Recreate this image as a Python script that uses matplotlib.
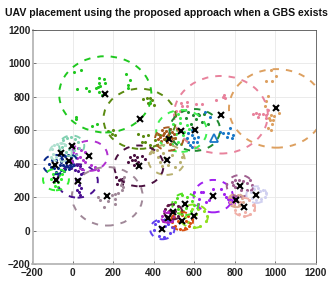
import matplotlib
matplotlib.use("Agg")
import matplotlib.pyplot as plt
from matplotlib.patches import Circle

plt.rcParams['font.family'] = ['Liberation Sans', 'DejaVu Sans']

# UAV positions and coverage radius, one entry per cluster
uav_x = [160, 331, 732, 1007, 603, 537, 476, 463, 326, 170,
         23, 81, -6, -61, -20, -89, -84,
         694, 826, 908, 808, 846, 556, 598, 539, 496, 468, 442]
uav_y = [815, 669, 693, 731, 602, 596, 548, 423, 387, 205,
         297, 447, 507, 467, 417, 395, 305,
         206, 267, 215, 180, 140, 158, 86, 56, 112, 76, 8]
uav_radius = [228, 180, 232, 235, 125, 125, 70, 90, 122, 175,
              100, 90, 62, 55, 40, 58, 64,
              97, 65, 50, 40, 55, 65, 70, 55, 45, 30, 60]
colors = ["#1fc81f", "#5a8a10", "#e8829c", "#dda060", "#1f8a30", "#40f050",
          "#a85a20", "#b8b070", "#4a1040", "#a08898",
          "#4a1090", "#b030d0", "#80d0b0", "#b0e0d0", "#0a2a8a", "#0a2a8a", "#30f030",
          "#a020f0", "#a06090", "#d0d0f0", "#d8a890", "#f0b0a8", "#50e020", "#90e020",
          "#d85010", "#601848", "#b020c0", "#6040f0"]

users = [
    [(5, 946), (40, 958), (18, 846), (63, 855), (81, 838), (130, 912), (125, 858), (115, 850), (135, 865),
     (130, 880), (152, 905), (160, 880), (142, 812), (128, 830), (265, 938), (282, 898), (270, 870),
     (274, 850), (15, 679), (13, 665), (117, 639), (96, 627)],
    [(364, 793), (380, 793), (390, 783), (372, 765), (348, 786), (381, 762), (400, 752), (175, 593),
     (200, 600), (192, 575), (208, 570), (356, 532), (372, 572), (405, 542), (381, 512), (430, 572),
     (389, 492), (340, 532), (414, 512), (322, 575), (345, 565)],
    [(707, 783), (740, 799), (753, 793), (746, 810), (892, 699), (905, 703), (922, 695), (938, 699),
     (955, 693), (955, 675), (963, 723), (534, 763), (562, 767), (542, 743), (565, 743), (510, 715),
     (530, 713), (610, 760), (915, 680), (640, 755)],
    [(979, 962), (954, 896), (984, 892), (1007, 926), (963, 803), (955, 775), (952, 745), (979, 693),
     (995, 683), (971, 675), (990, 660), (984, 635), (963, 613), (979, 603), (1017, 703), (975, 660)],
    [(570, 710), (596, 690), (620, 700), (640, 650), (585, 640), (560, 672), (648, 700), (668, 640),
     (625, 690), (610, 670)],
    [(530, 672), (530, 642), (562, 632), (522, 700), (495, 640), (515, 600), (545, 570), (560, 545),
     (520, 530), (505, 555), (535, 520), (550, 590), (490, 515), (575, 610), (480, 610), (510, 575)],
    [(422, 580), (430, 560), (440, 600), (450, 585), (460, 595), (470, 570), (480, 605), (490, 590),
     (435, 535), (450, 545), (465, 530), (480, 520), (495, 535), (505, 555), (500, 575), (445, 570),
     (462, 555), (490, 555), (420, 545), (475, 585)],
    [(397, 472), (414, 482), (447, 462), (455, 432), (472, 392), (430, 412), (380, 462), (529, 412),
     (490, 455), (505, 380), (440, 385), (420, 440), (540, 440)],
    [(283, 441), (300, 451), (316, 441), (291, 421), (308, 421), (324, 411), (270, 411), (245, 311),
     (228, 301), (220, 281), (245, 281), (212, 321), (340, 445), (355, 430), (300, 395)],
    [(241, 291), (253, 321), (247, 261), (241, 241), (208, 221), (191, 215), (175, 175), (208, 191),
     (208, 161), (134, 181), (154, 141), (126, 201), (248, 300), (238, 270), (225, 225)],
    [(5, 391), (20, 395), (35, 385), (45, 370), (50, 345), (10, 365), (25, 355), (40, 340), (-10, 375),
     (40, 255), (30, 230), (35, 215), (20, 245), (28, 270), (15, 300), (30, 310)],
    [(0, 471), (16, 461), (41, 481), (33, 441), (61, 411), (91, 391), (107, 381), (124, 361), (107, 371),
     (20, 435), (50, 425), (25, 495), (60, 470)],
    [(-50, 540), (-30, 555), (-10, 560), (10, 550), (25, 530), (-40, 510), (-20, 490), (5, 480), (30, 495),
     (-55, 500), (-35, 470)],
    [(-105, 490), (-95, 510), (-80, 520), (-60, 525), (-40, 510), (-100, 460), (-85, 440), (-65, 430),
     (-45, 450), (-110, 440)],
    [(-55, 430), (-40, 445), (-25, 450), (-10, 440), (-5, 415), (-50, 395), (-30, 385), (-15, 390),
     (0, 400), (-35, 410), (-60, 410), (-20, 370), (-40, 370)],
    [(-120, 400), (-105, 420), (-85, 425), (-65, 395), (-75, 375), (-95, 375), (-110, 380), (-60, 360),
     (-85, 350), (-45, 355), (-70, 340)],
    [(-100, 340), (-85, 345), (-70, 330), (-60, 310), (-75, 290), (-95, 290), (-110, 310), (-90, 265),
     (-75, 260), (-55, 340)],
    [(600, 231), (632, 231), (645, 231), (625, 191), (617, 161), (658, 171), (674, 181), (691, 251),
     (732, 251), (748, 221), (757, 201), (765, 191), (781, 201), (773, 171), (777, 186), (785, 175),
     (795, 165), (790, 195), (800, 205), (780, 160)],
    [(785, 290), (800, 300), (820, 305), (840, 295), (860, 285), (885, 270), (880, 245), (860, 240),
     (830, 245), (800, 260), (790, 270), (875, 300)],
    [(880, 230), (895, 250), (915, 255), (940, 245), (955, 225), (950, 200), (930, 190), (905, 185),
     (885, 195), (925, 235), (900, 215)],
    [(780, 200), (795, 215), (815, 215), (835, 195), (840, 170), (820, 150), (795, 150), (775, 170),
     (810, 175)],
    [(800, 125), (820, 100), (845, 90), (875, 100), (895, 125), (890, 155), (870, 180), (825, 170),
     (850, 110)],
    [(505, 170), (515, 195), (540, 215), (565, 200), (590, 175), (600, 150), (585, 120), (545, 115),
     (520, 130), (560, 135)],
    [(540, 110), (555, 80), (590, 130), (620, 130), (650, 115), (665, 90), (660, 55), (630, 30),
     (600, 20), (570, 50), (610, 100)],
    [(490, 50), (505, 30), (530, 10), (555, 15), (580, 45), (590, 70), (570, 85), (540, 95), (500, 80),
     (520, 60), (560, 60), (575, 30)],
    [(455, 130), (470, 150), (495, 160), (520, 145), (535, 110), (520, 85), (490, 70), (460, 85),
     (475, 115), (505, 120)],
    [(440, 90), (450, 115), (470, 110), (495, 90), (490, 60), (465, 50), (445, 60), (470, 80)],
    [(405, 40), (420, 55), (445, 65), (470, 40), (490, 20), (480, -15), (450, -40), (425, -30), (400, 5),
     (430, 20), (455, 25)],
]

# users served by the ground base station, no coverage circle drawn
gbs_x = [700]
gbs_y = [553]
gbs_users = [(570, 582), (587, 572), (562, 552), (570, 532), (595, 532), (612, 532), (579, 512),
             (587, 502), (600, 555), (620, 562), (653, 712), (678, 682), (727, 592), (744, 586),
             (776, 612), (768, 582), (793, 572), (785, 552), (760, 560), (590, 600)]

ticks = list(range(-200, 1201, 200))
title = "UAV placement using the proposed approach when a GBS exists"

fig = plt.figure(figsize=(3.32, 2.85), dpi=100)
ax = fig.add_axes([32.5 / 332, 1 - 264 / 285, 283 / 332, 234 / 285])

for (cx, cy, r, col, pts) in zip(uav_x, uav_y, uav_radius, colors, users):
    ax.scatter([p[0] for p in pts], [p[1] for p in pts], s=5, color=col, linewidths=0, zorder=2)
    ax.add_patch(Circle((cx, cy), r, fill=False, edgecolor=col, linewidth=1.4,
                        linestyle=(0, (3.3, 3.6)), zorder=3))

ax.scatter([p[0] for p in gbs_users], [p[1] for p in gbs_users], s=5, color="#1a78c8",
           linewidths=0, zorder=2)
ax.plot(gbs_x, gbs_y, "^", mfc="none", mec="#1a78c8", ms=5.5, mew=1.3, zorder=4)
ax.plot(uav_x, uav_y, "x", color="black", ms=4.2, mew=1.5, zorder=5)

ax.set_xlim(-200, 1200)
ax.set_ylim(-200, 1200)
ax.set_xticks(ticks)
ax.set_yticks(ticks)
ax.tick_params(direction="in", length=2.5, width=0.5, labelsize=7.2, pad=1.5, color="#444444",
               labelcolor="#222222")
ax.tick_params(axis="x", pad=3)
for lab in ax.get_xticklabels() + ax.get_yticklabels():
    lab.set_fontweight("bold")
ax.grid(True, color="#e8e8e8", linewidth=0.6)
ax.set_axisbelow(True)
ax.spines["top"].set_color("#555555")
ax.spines["right"].set_color("#555555")
ax.spines["top"].set_linewidth(0.6)
ax.spines["right"].set_linewidth(0.6)
ax.spines["left"].set_color("#b0b0b0")
ax.spines["bottom"].set_color("#b0b0b0")
ax.spines["left"].set_linewidth(1.2)
ax.spines["bottom"].set_linewidth(1.2)

fig.text(166 / 332, 1 - 13.5 / 285, title, ha="center", va="center", fontsize=7.55,
         fontweight="bold", color="#111111")

fig.savefig("out.png", dpi=100)
